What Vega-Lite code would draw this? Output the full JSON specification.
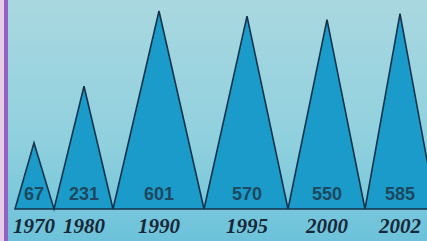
{
  "$schema": "https://vega.github.io/schema/vega-lite/v6.json",
  "width": 423,
  "height": 241,
  "autosize": {"type": "none"},
  "padding": {"left": 4, "top": 0, "right": 0, "bottom": 0},
  "background": "#e6cce4",
  "view": {
    "stroke": null,
    "fill": {"gradient": "linear", "x1": 0, "y1": 0, "x2": 0, "y2": 1,
      "stops": [{"offset": 0, "color": "#a9d8e0"}, {"offset": 0.6, "color": "#8fd0de"}, {"offset": 1, "color": "#6cc2da"}]}
  },
  "data": {
    "values": [
      {"pos": 15, "value": 0},
      {"pos": 34, "value": 67, "year": "1970"},
      {"pos": 54, "value": 0},
      {"pos": 84, "value": 231, "year": "1980"},
      {"pos": 113, "value": 0},
      {"pos": 159, "value": 601, "year": "1990"},
      {"pos": 204, "value": 0},
      {"pos": 247, "value": 570, "year": "1995"},
      {"pos": 288, "value": 0},
      {"pos": 327, "value": 550, "year": "2000"},
      {"pos": 365, "value": 0},
      {"pos": 400, "value": 585, "year": "2002"},
      {"pos": 436, "value": 0}
    ]
  },
  "encoding": {
    "x": {"field": "pos", "type": "quantitative", "scale": {"domain": [4, 427], "nice": false, "zero": false}, "axis": null},
    "y": {"field": "value", "type": "quantitative", "scale": {"type": "sqrt", "domain": [0, 601], "range": [209, 11], "nice": false}, "axis": null}
  },
  "layer": [
    {
      "mark": {"type": "area", "fill": "#1b9bc9", "stroke": "#16334c", "strokeWidth": 1.6, "strokeJoin": "miter", "clip": true}
    },
    {
      "mark": {"type": "rule", "color": "#9462c2", "strokeWidth": 4},
      "encoding": {"x": {"datum": 6}, "y": null}
    },
    {
      "transform": [{"filter": "datum.year != null"}],
      "mark": {"type": "text", "font": "Liberation Sans", "fontWeight": "bold", "fontSize": 18, "color": "#1d4860", "baseline": "middle", "dy": -14},
      "encoding": {"y": {"datum": 0, "type": "quantitative"}, "text": {"field": "value", "type": "quantitative"}}
    },
    {
      "transform": [{"filter": "datum.year != null"}],
      "mark": {"type": "text", "font": "Liberation Serif", "fontWeight": "bold", "fontStyle": "italic", "fontSize": 21, "color": "#172838", "baseline": "middle", "dy": 18},
      "encoding": {"y": {"datum": 0, "type": "quantitative"}, "text": {"field": "year", "type": "nominal"}}
    }
  ]
}
